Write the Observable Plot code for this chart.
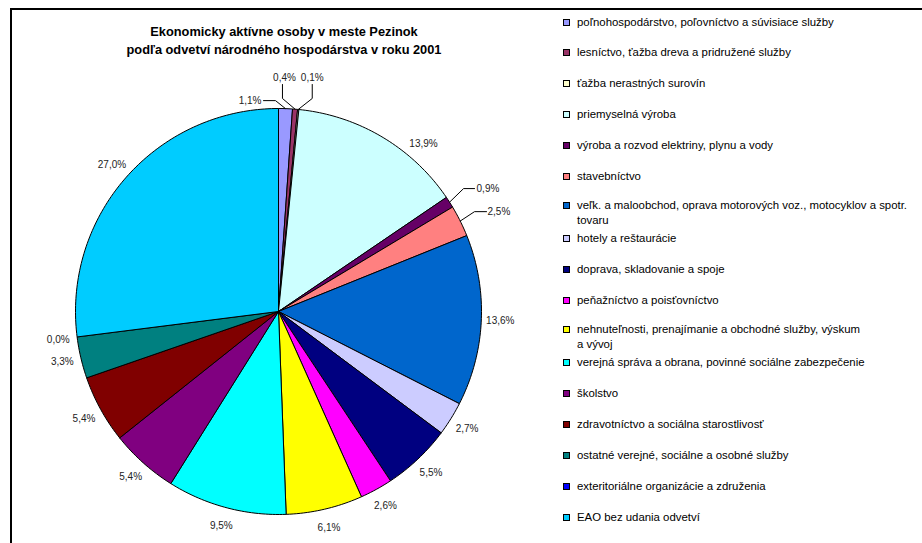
<!DOCTYPE html>
<html>
<head>
<meta charset="utf-8">
<script src="https://cdn.jsdelivr.net/npm/d3@7"></script>
<script src="https://cdn.jsdelivr.net/npm/@observablehq/plot@0.6"></script>
<style>
  body { margin: 0; background: #fff; }
  #wrap { position: relative; width: 922px; height: 543px; overflow: hidden; background: #fff;
          font-family: "Liberation Sans", Arial, sans-serif; }
  #frame { position: absolute; left: 10px; top: 8px; width: 1200px; height: 1200px;
           border-left: 2px solid #000; border-top: 2px solid #000; pointer-events: none; }
  #chart { position: absolute; left: 0; top: 0; }
  #title { position: absolute; left: 84px; width: 400px; top: 23px; text-align: center;
           font-weight: bold; font-size: 12.8px; line-height: 18px; color: #000; }
  .lg-sq { position: absolute; width: 5px; height: 5px; border: 1px solid #000; }
  .lg-tx { position: absolute; left: 577px; font-size: 11.4px; line-height: 15px; white-space: pre; color: #000; }
</style>
</head>
<body>
<div id="wrap">
  <div id="chart"></div>
  <div id="title">Ekonomicky aktívne osoby v meste Pezinok<br>podľa odvetví národného hospodárstva v roku 2001</div>
  <div id="legend"></div>
  <div id="frame"></div>
</div>
<script>
const names = [
  "poľnohospodárstvo, poľovníctvo a súvisiace služby",
  "lesníctvo, ťažba dreva a pridružené služby",
  "ťažba nerastných surovín",
  "priemyselná výroba",
  "výroba a rozvod elektriny, plynu a vody",
  "stavebníctvo",
  "veľk. a maloobchod, oprava motorových voz., motocyklov a spotr.\ntovaru",
  "hotely a reštaurácie",
  "doprava, skladovanie a spoje",
  "peňažníctvo a poisťovníctvo",
  "nehnuteľnosti, prenajímanie a obchodné služby, výskum\na vývoj",
  "verejná správa a obrana, povinné sociálne zabezpečenie",
  "školstvo",
  "zdravotníctvo a sociálna starostlivosť",
  "ostatné verejné, sociálne a osobné služby",
  "exteritoriálne organizácie a združenia",
  "EAO bez udania odvetví"
];
const values = [1.1, 0.4, 0.1, 13.9, 0.9, 2.5, 13.6, 2.7, 5.5, 2.6, 6.1, 9.5, 5.4, 5.4, 3.3, 0.0, 27.0];
const colors = ["#9999FF", "#993366", "#FFFFCC", "#CCFFFF", "#660066", "#FF8080", "#0066CC", "#CCCCFF",
                "#000080", "#FF00FF", "#FFFF00", "#00FFFF", "#800080", "#800000", "#008080", "#0000FF", "#00CCFF"];

// layout
const W = 922, H = 543, CX = 278, CY = 311, R = 203;
const total = d3.sum(values);

// slices
let cum = 0;
const slices = values.map((v, i) => {
  const a0 = cum / total * 2 * Math.PI;
  cum += v;
  const a1 = cum / total * 2 * Math.PI;
  return {i, v, a0, a1, mid: (a0 + a1) / 2, color: colors[i], name: names[i]};
});

const polyPts = [];
for (const s of slices) {
  if (s.v <= 0) continue;
  const n = Math.max(2, Math.ceil((s.a1 - s.a0) / (Math.PI / 180)));
  polyPts.push({i: s.i, color: s.color, x: 0, y: 0});
  for (let k = 0; k <= n; k++) {
    const a = s.a0 + (s.a1 - s.a0) * k / n;
    polyPts.push({i: s.i, color: s.color, x: Math.sin(a), y: Math.cos(a)});
  }
  polyPts.push({i: s.i, color: s.color, x: 0, y: 0});
}

const fmt = v => v.toFixed(1).replace(".", ",") + "%";

// leader lines for small slices: [elbow dx, dy, end dx, dy, text dx, dy, anchor] in px relative to slice edge point
const leaders = {
  0: [-10, -8, -22, -8, -24, -8, "end"],
  1: [-12.6, -10.7, -12.6, -24.7, -10.6, -31.5, "middle"],
  2: [14, -11, 14, -25, 14, -32, "middle"],
  4: [14, -13.6, 25, -13.6, 27, -13, "start"],
  5: [14.3, -9.4, 26.3, -9.4, 27.3, -9.4, "start"]
};
const angleShift = {3: 10 * Math.PI / 180};

const labels = [], leaderPts = [];
for (const s of slices) {
  const ex = Math.sin(s.mid), ey = Math.cos(s.mid);
  const L = leaders[s.i];
  if (L) {
    leaderPts.push({i: s.i, x: ex, y: ey});
    leaderPts.push({i: s.i, x: ex + L[0] / R, y: ey - L[1] / R});
    leaderPts.push({i: s.i, x: ex + L[2] / R, y: ey - L[3] / R});
    labels.push({x: ex + L[4] / R, y: ey - L[5] / R, text: fmt(s.v), anchor: L[6]});
  } else {
    const a = s.mid + (angleShift[s.i] || 0);
    const lr = 222 / R;
    labels.push({x: lr * Math.sin(a), y: lr * Math.cos(a), text: fmt(s.v), anchor: "middle"});
  }
}

const plot = Plot.plot({
  width: W, height: H, margin: 0,
  x: {domain: [-CX / R, (W - CX) / R], axis: null},
  y: {domain: [-(H - CY) / R, CY / R], axis: null},
  color: {type: "identity"},
  style: {background: "transparent", fontFamily: "'Liberation Sans', Arial, sans-serif", fontSize: "10px", overflow: "visible"},
  marks: [
    Plot.line(polyPts, {x: "x", y: "y", z: "i", fill: "color", stroke: "#000", strokeWidth: 1, curve: "linear-closed"}),
    Plot.line(leaderPts, {x: "x", y: "y", z: "i", stroke: "#000", strokeWidth: 1}),
    ...["start", "middle", "end"].map(anc =>
      Plot.text(labels.filter(d => d.anchor === anc), {x: "x", y: "y", text: "text", textAnchor: anc, fill: "#222", fontSize: 10}))
  ]
});
document.getElementById("chart").appendChild(plot);

// legend
const lg = document.getElementById("legend");
names.forEach((n, i) => {
  const y = 22 + i * 30.94 - (n.includes("\n") ? 2 : 0);
  const sq = document.createElement("div");
  sq.className = "lg-sq";
  sq.style.left = "563px";
  sq.style.top = (y - 3.5) + "px";
  sq.style.background = colors[i];
  lg.appendChild(sq);
  const tx = document.createElement("div");
  tx.className = "lg-tx";
  tx.style.top = (y - 7.5) + "px";
  tx.textContent = n;
  lg.appendChild(tx);
});
</script>
</body>
</html>
